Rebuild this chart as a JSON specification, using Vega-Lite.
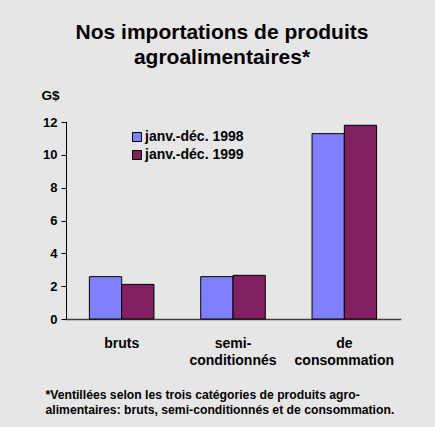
{
  "$schema": "https://vega.github.io/schema/vega-lite/v6.json",
  "autosize": {"type": "none"},
  "width": 334,
  "height": 197,
  "padding": {"left": 66, "top": 122, "right": 35, "bottom": 108},
  "background": "#e6e6e6",
  "title": {
    "text": ["Nos importations de produits", "agroalimentaires*"],
    "font": "Liberation Sans",
    "fontSize": 21,
    "fontWeight": "bold",
    "color": "#000000",
    "lineHeight": 25,
    "anchor": "middle",
    "frame": "group",
    "dx": -11,
    "offset": 20
  },
  "data": {
    "values": [
      {"categorie": "bruts", "periode": "janv.-déc. 1998", "valeur": 2.58},
      {"categorie": "bruts", "periode": "janv.-déc. 1999", "valeur": 2.11},
      {"categorie": "semi-conditionnés", "periode": "janv.-déc. 1998", "valeur": 2.58},
      {"categorie": "semi-conditionnés", "periode": "janv.-déc. 1999", "valeur": 2.66},
      {"categorie": "de consommation", "periode": "janv.-déc. 1998", "valeur": 11.29},
      {"categorie": "de consommation", "periode": "janv.-déc. 1999", "valeur": 11.8}
    ]
  },
  "mark": {"type": "bar", "stroke": "#000000", "strokeWidth": 1},
  "encoding": {
    "x": {
      "field": "categorie",
      "type": "nominal",
      "sort": ["bruts", "semi-conditionnés", "de consommation"],
      "scale": {"paddingInner": 0.42, "paddingOuter": 0.21},
      "axis": {
        "labelAngle": 0,
        "labelExpr": "datum.value == 'semi-conditionnés' ? ['semi-', 'conditionnés'] : datum.value == 'de consommation' ? ['de', 'consommation'] : datum.value",
        "labelFont": "Liberation Sans",
        "labelFontSize": 14,
        "labelFontWeight": "bold",
        "labelColor": "#000000",
        "labelLineHeight": 17,
        "labelPadding": 17,
        "ticks": false,
        "tickSize": 0,
        "domainColor": "#404040",
        "domainWidth": 1.5,
        "title": ["*Ventillées selon les trois catégories de produits agro-", "\u00a0\u00a0alimentaires: bruts, semi-conditionnés et de consommation."],
        "titleFont": "Liberation Sans",
        "titleFontSize": 12.2,
        "titleFontWeight": "bold",
        "titleColor": "#000000",
        "titleLineHeight": 15,
        "titleAnchor": "start",
        "titleAlign": "left",
        "titleBaseline": "alphabetic",
        "titleX": -21,
        "titleY": 79
      }
    },
    "xOffset": {
      "field": "periode",
      "type": "nominal",
      "scale": {"paddingInner": 0, "paddingOuter": 0}
    },
    "y": {
      "field": "valeur",
      "type": "quantitative",
      "scale": {"domain": [0, 12], "nice": false},
      "axis": {
        "values": [0, 2, 4, 6, 8, 10, 12],
        "grid": false,
        "labelFont": "Liberation Sans",
        "labelFontSize": 13,
        "labelFontWeight": "bold",
        "labelColor": "#000000",
        "labelPadding": 4,
        "tickSize": 5,
        "tickColor": "#000000",
        "domainColor": "#000000",
        "title": "G$",
        "titleFont": "Liberation Sans",
        "titleFontSize": 13.5,
        "titleFontWeight": "bold",
        "titleColor": "#000000",
        "titleAngle": 0,
        "titleAlign": "center",
        "titleBaseline": "alphabetic",
        "titleX": -16,
        "titleY": -23
      }
    },
    "color": {
      "field": "periode",
      "type": "nominal",
      "scale": {"range": ["#8080ff", "#802060"]},
      "legend": {
        "title": null,
        "orient": "none",
        "legendX": 64,
        "legendY": 8,
        "padding": 0,
        "symbolType": "square",
        "symbolSize": 81,
        "symbolStrokeColor": "#000000",
        "symbolStrokeWidth": 1,
        "symbolOpacity": 1,
        "labelFont": "Liberation Sans",
        "labelFontSize": 14,
        "labelFontWeight": "bold",
        "labelColor": "#000000",
        "labelOffset": 1,
        "rowPadding": 4
      }
    }
  },
  "config": {
    "view": {"stroke": null},
    "axis": {"domainCap": "square"}
  }
}
